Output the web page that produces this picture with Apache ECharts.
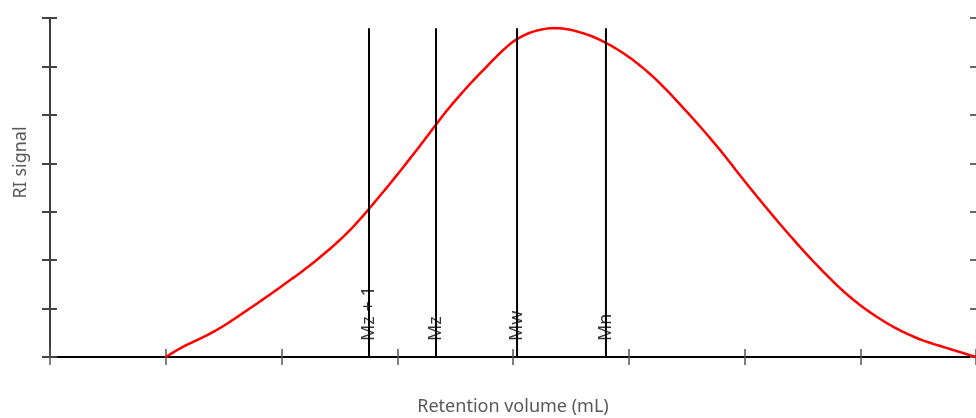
<!DOCTYPE html>
<html>
<head>
<meta charset="utf-8">
<script src="https://cdn.jsdelivr.net/npm/echarts@6/dist/echarts.min.js"></script>
<style>
html,body{margin:0;padding:0;background:#fff;}
#chart{width:976px;height:418px;}
</style>
</head>
<body>
<div id="chart"></div>
<script>
// Curve (retention volume, RI signal)
const curveX = [1.0, 1.152, 1.44, 1.728, 2.016, 2.304, 2.592, 2.88, 3.168, 3.456, 3.744, 4.032, 4.32, 4.608, 4.896, 5.184, 5.472, 5.76, 6.048, 6.336, 6.624, 6.912, 7.2, 7.488, 7.776, 8.0];
const curveY = [0, 0.213, 0.557, 1.006, 1.487, 2.003, 2.622, 3.413, 4.274, 5.168, 5.926, 6.560, 6.787, 6.684, 6.360, 5.843, 5.141, 4.357, 3.490, 2.664, 1.900, 1.239, 0.743, 0.392, 0.165, 0];
// Molar-mass average markers
const markerNames = ['Mz + 1', 'Mz', 'Mw', 'Mn'];
const markerX = [2.756, 3.335, 4.035, 4.803];
const markerTop = 6.79;
const labelY = 0.33;

const chart = echarts.init(document.getElementById('chart'), null, {renderer: 'canvas'});
const fontFam = '"Noto Sans", sans-serif';

// Smooth curve through the data points, positioned by the chart's own axes (api.coord)
function renderCurve(params, api) {
  if (params.dataIndex !== 0) return null;
  const p = curveX.map((x, i) => api.coord([x, curveY[i]]));
  const out = [p[0]];
  const n = p.length;
  const steps = 14;
  for (let i = 0; i < n - 1; i++) {
    const p0 = p[Math.max(0, i - 1)], p1 = p[i], p2 = p[i + 1], p3 = p[Math.min(n - 1, i + 2)];
    const c1 = [p1[0] + (p2[0] - p0[0]) / 6, p1[1] + (p2[1] - p0[1]) / 6];
    const c2 = [p2[0] - (p3[0] - p1[0]) / 6, p2[1] - (p3[1] - p1[1]) / 6];
    for (let s = 1; s <= steps; s++) {
      const t = s / steps, u = 1 - t;
      out.push([
        u*u*u*p1[0] + 3*u*u*t*c1[0] + 3*u*t*t*c2[0] + t*t*t*p2[0],
        u*u*u*p1[1] + 3*u*u*t*c1[1] + 3*u*t*t*c2[1] + t*t*t*p2[1]
      ]);
    }
  }
  return {
    type: 'polyline',
    shape: {points: out},
    style: {stroke: '#ff0000', lineWidth: 2.5, fill: null, lineJoin: 'round'},
    silent: true
  };
}

const series = [];
series.push({
  type: 'custom',
  data: curveX.map((x, i) => [x, curveY[i]]),
  encode: {x: 0, y: 1},
  renderItem: renderCurve,
  clip: false,
  z: 3,
  silent: true
});
markerX.forEach((x, i) => {
  series.push({
    type: 'line',
    data: [[x, 0], [x, markerTop]],
    showSymbol: false,
    lineStyle: {color: '#000', width: 2},
    z: 4,
    silent: true
  });
});
series.push({
  type: 'scatter',
  data: markerX.map((x, i) => ({value: [x, labelY], name: markerNames[i]})),
  symbolSize: 1,
  itemStyle: {color: 'transparent'},
  label: {
    show: true,
    formatter: '{b}',
    position: 'inside',
    rotate: 90,
    align: 'left',
    verticalAlign: 'middle',
    fontSize: 18,
    color: '#000',
    fontFamily: fontFam
  },
  z: 5,
  silent: true
});

const yBase = {type: 'value', min: 0, max: 7, interval: 1, axisLabel: {show: false}, splitLine: {show: false}};
const xBase = {type: 'value', min: 0, max: 8, interval: 1, axisLabel: {show: false}, splitLine: {show: false}};

chart.setOption({
  animation: false,
  backgroundColor: '#fff',
  grid: {left: 50, right: 0, top: 18, bottom: 61, containLabel: false, outerBoundsMode: 'none'},
  xAxis: [
    Object.assign({}, xBase, {
      position: 'bottom',
      axisLine: {show: true, onZero: false, lineStyle: {color: '#000', width: 2}},
      axisTick: {show: true, inside: false, length: 8, lineStyle: {color: '#555', width: 1.5}},
      name: 'Retention volume (mL)',
      nameLocation: 'middle',
      nameGap: 41,
      nameTextStyle: {color: '#595959', fontSize: 18, fontFamily: fontFam}
    }),
    Object.assign({}, xBase, {
      position: 'bottom',
      axisLine: {show: false, onZero: false},
      axisTick: {show: true, inside: true, length: 8, lineStyle: {color: '#555', width: 1.5}}
    })
  ],
  yAxis: [
    Object.assign({}, yBase, {
      position: 'left',
      axisLine: {show: true, onZero: false, lineStyle: {color: '#3d3d3d', width: 2}},
      axisTick: {show: true, inside: false, length: 8, lineStyle: {color: '#444', width: 2}},
      name: 'RI signal',
      nameLocation: 'middle',
      nameRotate: 90,
      nameGap: 20,
      nameTextStyle: {color: '#595959', fontSize: 18, fontFamily: fontFam, padding: [0, 0, 0, 50]}
    }),
    Object.assign({}, yBase, {
      position: 'left',
      axisLine: {show: false, onZero: false},
      axisTick: {show: true, inside: true, length: 7, lineStyle: {color: '#444', width: 2}}
    }),
    Object.assign({}, yBase, {
      position: 'right',
      axisLine: {show: false, onZero: false},
      axisTick: {show: true, inside: true, length: 6, lineStyle: {color: '#666', width: 2}}
    })
  ],
  series: series
});
</script>
</body>
</html>
